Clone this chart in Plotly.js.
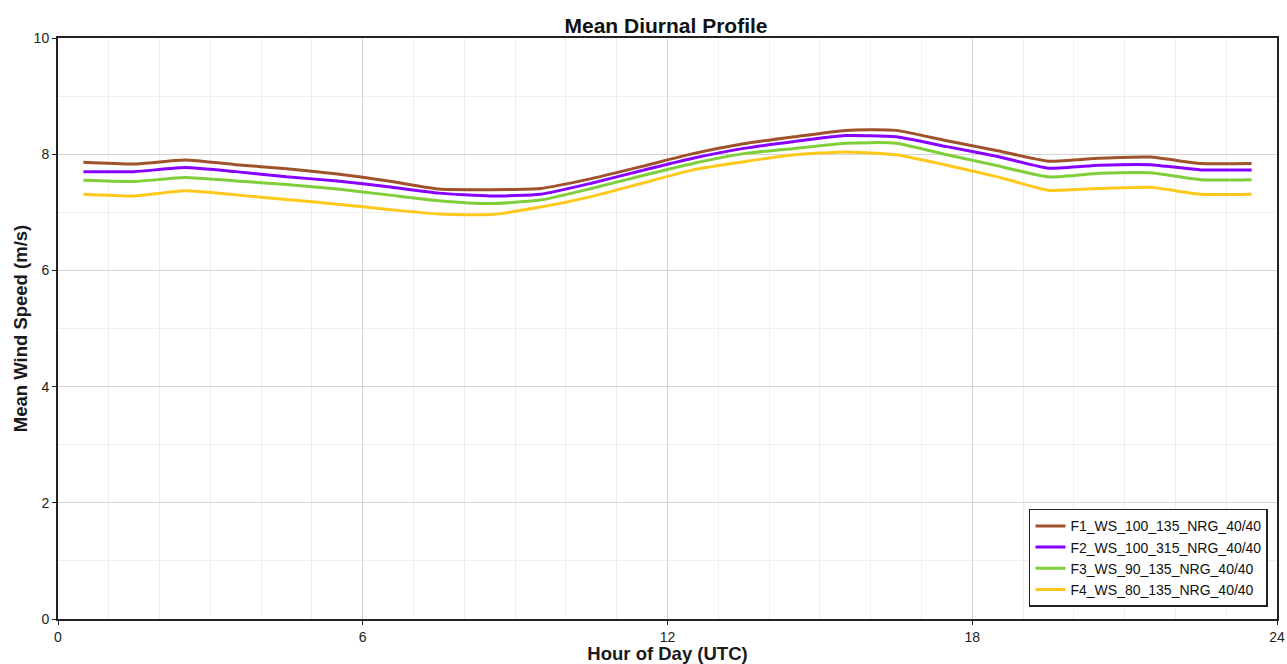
<!DOCTYPE html>
<html>
<head>
<meta charset="utf-8">
<script src="https://cdn.plot.ly/plotly-3.0.1.min.js"></script>
<style>
  html, body { margin: 0; padding: 0; background: #fff; }
  #chart { width: 1287px; height: 664px; }
</style>
</head>
<body>
<div id="chart"></div>
<script>
// Hour bins (centre of each UTC hour)
const hours = [0.5, 1.5, 2.5, 3.5, 4.5, 5.5, 6.5, 7.5, 8.5, 9.5, 10.5, 11.5,
               12.5, 13.5, 14.5, 15.5, 16.5, 17.5, 18.5, 19.5, 20.5, 21.5, 22.5, 23.5];

// Mean wind speed per hour (m/s) for each sensor
const f1 = [7.86, 7.83, 7.90, 7.82, 7.75, 7.66, 7.54, 7.40, 7.39, 7.41, 7.58, 7.79,
            8.01, 8.18, 8.30, 8.41, 8.41, 8.23, 8.06, 7.88, 7.93, 7.95, 7.84, 7.84];
const f2 = [7.70, 7.70, 7.77, 7.70, 7.61, 7.54, 7.44, 7.33, 7.28, 7.31, 7.50, 7.72,
            7.93, 8.10, 8.22, 8.32, 8.30, 8.13, 7.96, 7.76, 7.81, 7.82, 7.73, 7.73];
const f3 = [7.55, 7.53, 7.60, 7.54, 7.48, 7.40, 7.30, 7.20, 7.15, 7.21, 7.41, 7.63,
            7.84, 8.01, 8.10, 8.19, 8.19, 7.99, 7.80, 7.61, 7.67, 7.68, 7.56, 7.56];
const f4 = [7.31, 7.28, 7.37, 7.30, 7.22, 7.14, 7.05, 6.97, 6.96, 7.09, 7.27, 7.50,
            7.73, 7.87, 7.99, 8.04, 7.99, 7.81, 7.61, 7.38, 7.41, 7.43, 7.31, 7.31];

const names = ["F1_WS_100_135_NRG_40/40", "F2_WS_100_315_NRG_40/40",
               "F3_WS_90_135_NRG_40/40", "F4_WS_80_135_NRG_40/40"];
const colors = ["#a0522d", "#8a00ff", "#7fcf3a", "#ffc81a"];
const series = [f1, f2, f3, f4];

const traces = series.map((ys, i) => ({
  x: hours,
  y: ys,
  name: names[i],
  type: "scatter",
  mode: "lines",
  line: { color: colors[i], width: 3, shape: "spline", smoothing: 0.5 }
}));

const family = "Arial, Liberation Sans, sans-serif";
const tickFont = { family: family, size: 14, color: "#222" };
const titleFont = { family: family, size: 18.5, color: "#1a1a1a", weight: "bold" };

const layout = {
  width: 1287,
  height: 664,
  paper_bgcolor: "#ffffff",
  plot_bgcolor: "#ffffff",
  margin: { l: 58, r: 10, t: 38, b: 45 },
  title: {
    text: "Mean Diurnal Profile",
    x: 0.5175, xanchor: "center",
    y: 0.962, yanchor: "middle",
    font: { family: family, size: 21, color: "#111", weight: "bold" }
  },
  xaxis: {
    range: [0, 24],
    tickmode: "linear", tick0: 0, dtick: 6,
    ticks: "outside", ticklen: 4, tickwidth: 1, tickcolor: "#222",
    tickfont: tickFont,
    showgrid: true, gridcolor: "#d4d4d4", gridwidth: 1,
    minor: { dtick: 1, showgrid: true, gridcolor: "#efefef", gridwidth: 1 },
    showline: true, linecolor: "#222", linewidth: 2, mirror: true,
    zeroline: false,
    title: { text: "Hour of Day (UTC)", font: titleFont, standoff: 2 }
  },
  yaxis: {
    range: [0, 10],
    tickmode: "linear", tick0: 0, dtick: 2,
    ticks: "outside", ticklen: 4, tickwidth: 1, tickcolor: "#222",
    tickfont: tickFont,
    showgrid: true, gridcolor: "#d4d4d4", gridwidth: 1,
    minor: { dtick: 1, showgrid: true, gridcolor: "#efefef", gridwidth: 1 },
    showline: true, linecolor: "#222", linewidth: 2, mirror: true,
    zeroline: false,
    title: { text: "Mean Wind Speed (m/s)", font: titleFont, standoff: 1 }
  },
  showlegend: true,
  legend: {
    x: 0.9926, xanchor: "right",
    y: 0.021, yanchor: "bottom",
    bgcolor: "#ffffff",
    bordercolor: "#222", borderwidth: 1.5,
    font: { family: family, size: 14, color: "#111" },
    tracegroupgap: 0,
    itemwidth: 30
  }
};

Plotly.newPlot("chart", traces, layout, { displayModeBar: false, staticPlot: true });
</script>
</body>
</html>
